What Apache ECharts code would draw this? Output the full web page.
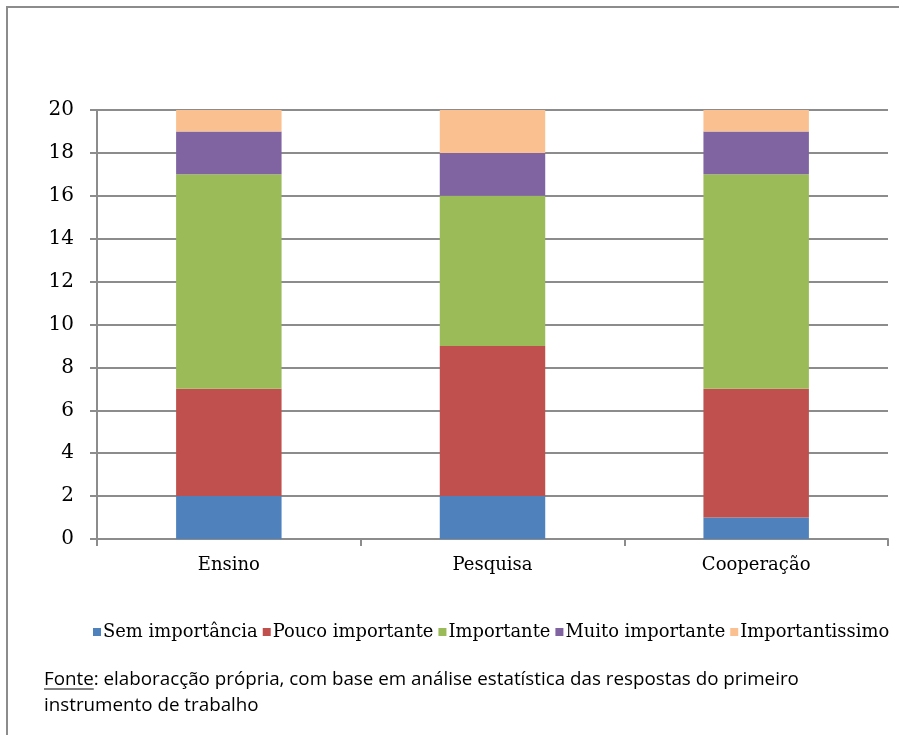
<!DOCTYPE html>
<html>
<head>
<meta charset="utf-8">
<style>
  html, body { margin: 0; padding: 0; background: #fff; }
  #chart { width: 899px; height: 735px; }
</style>
<script src="https://cdn.jsdelivr.net/npm/echarts@6/dist/echarts.min.js"></script>
</head>
<body>
<div id="chart"></div>
<script>
// Categories and stacked counts per importance level
var categories = ['Ensino', 'Pesquisa', 'Cooperação'];
var semImportancia = [2, 2, 1];
var poucoImportante = [5, 7, 6];
var importante = [10, 7, 10];
var muitoImportante = [2, 2, 2];
var importantissimo = [1, 2, 1];
var seriesNames = ['Sem importância', 'Pouco importante', 'Importante', 'Muito importante', 'Importantissimo'];
var seriesColors = ['#4F81BD', '#C0504D', '#9BBB59', '#8064A2', '#FAC090'];
var seriesData = [semImportancia, poucoImportante, importante, muitoImportante, importantissimo];

var serif = '"DejaVu Serif", "Liberation Serif", serif';
var sans = '"Open Sans", "Noto Sans", sans-serif';
var noteFontSize = 18.8;
var noteLead = 'Fonte';
var noteRest = ': elaboracção própria, com base em análise estatística das respostas do primeiro';
var noteLine2 = 'instrumento de trabalho';

// width of the underlined lead word
var ctx = document.createElement('canvas').getContext('2d');
ctx.font = noteFontSize + 'px ' + sans;
var leadWidth = ctx.measureText(noteLead).width;

var chart = echarts.init(document.getElementById('chart'));

var series = seriesNames.map(function (name, i) {
  return {
    name: name,
    type: 'bar',
    stack: 'total',
    barWidth: '40%',
    itemStyle: { color: seriesColors[i] },
    data: seriesData[i]
  };
});

chart.setOption({
  animation: false,
  backgroundColor: '#fff',
  grid: { left: 97, right: 11, top: 110, bottom: 196 },
  legend: {
    data: seriesNames,
    left: 88,
    top: 618,
    itemWidth: 8,
    itemHeight: 8,
    itemGap: 5,
    icon: 'rect',
    textStyle: { fontFamily: serif, fontSize: 17.9, color: '#000', padding: [0, 0, 0, -3] }
  },
  xAxis: {
    type: 'category',
    data: categories,
    axisLine: { lineStyle: { color: '#8c8c8c', width: 2 } },
    axisTick: { show: true, length: 7, lineStyle: { color: '#8c8c8c', width: 2 } },
    axisLabel: { fontFamily: serif, fontSize: 18, color: '#000', margin: 17 }
  },
  yAxis: {
    type: 'value',
    min: 0,
    max: 20,
    interval: 2,
    axisLine: { show: true, lineStyle: { color: '#8c8c8c', width: 2 } },
    axisTick: { show: true, length: 7, lineStyle: { color: '#8c8c8c', width: 2 } },
    axisLabel: { fontFamily: serif, fontSize: 20, color: '#000', margin: 23 },
    splitLine: { lineStyle: { color: '#8c8c8c', width: 2 } }
  },
  graphic: [
    {
      type: 'polyline',
      shape: { points: [[7, 740], [7, 7], [905, 7]] },
      style: { stroke: '#8c8c8c', lineWidth: 2, fill: null },
      silent: true
    },
    {
      type: 'text',
      left: 44,
      top: 667,
      style: {
        text: noteLead + noteRest + '\n' + noteLine2,
        fontFamily: sans,
        fontSize: noteFontSize,
        lineHeight: 26,
        fill: '#000'
      }
    },
    {
      type: 'line',
      shape: { x1: 44, y1: 689, x2: 44 + leadWidth, y2: 689 },
      style: { stroke: '#000', lineWidth: 1 }
    }
  ],
  series: series
});
</script>
</body>
</html>
